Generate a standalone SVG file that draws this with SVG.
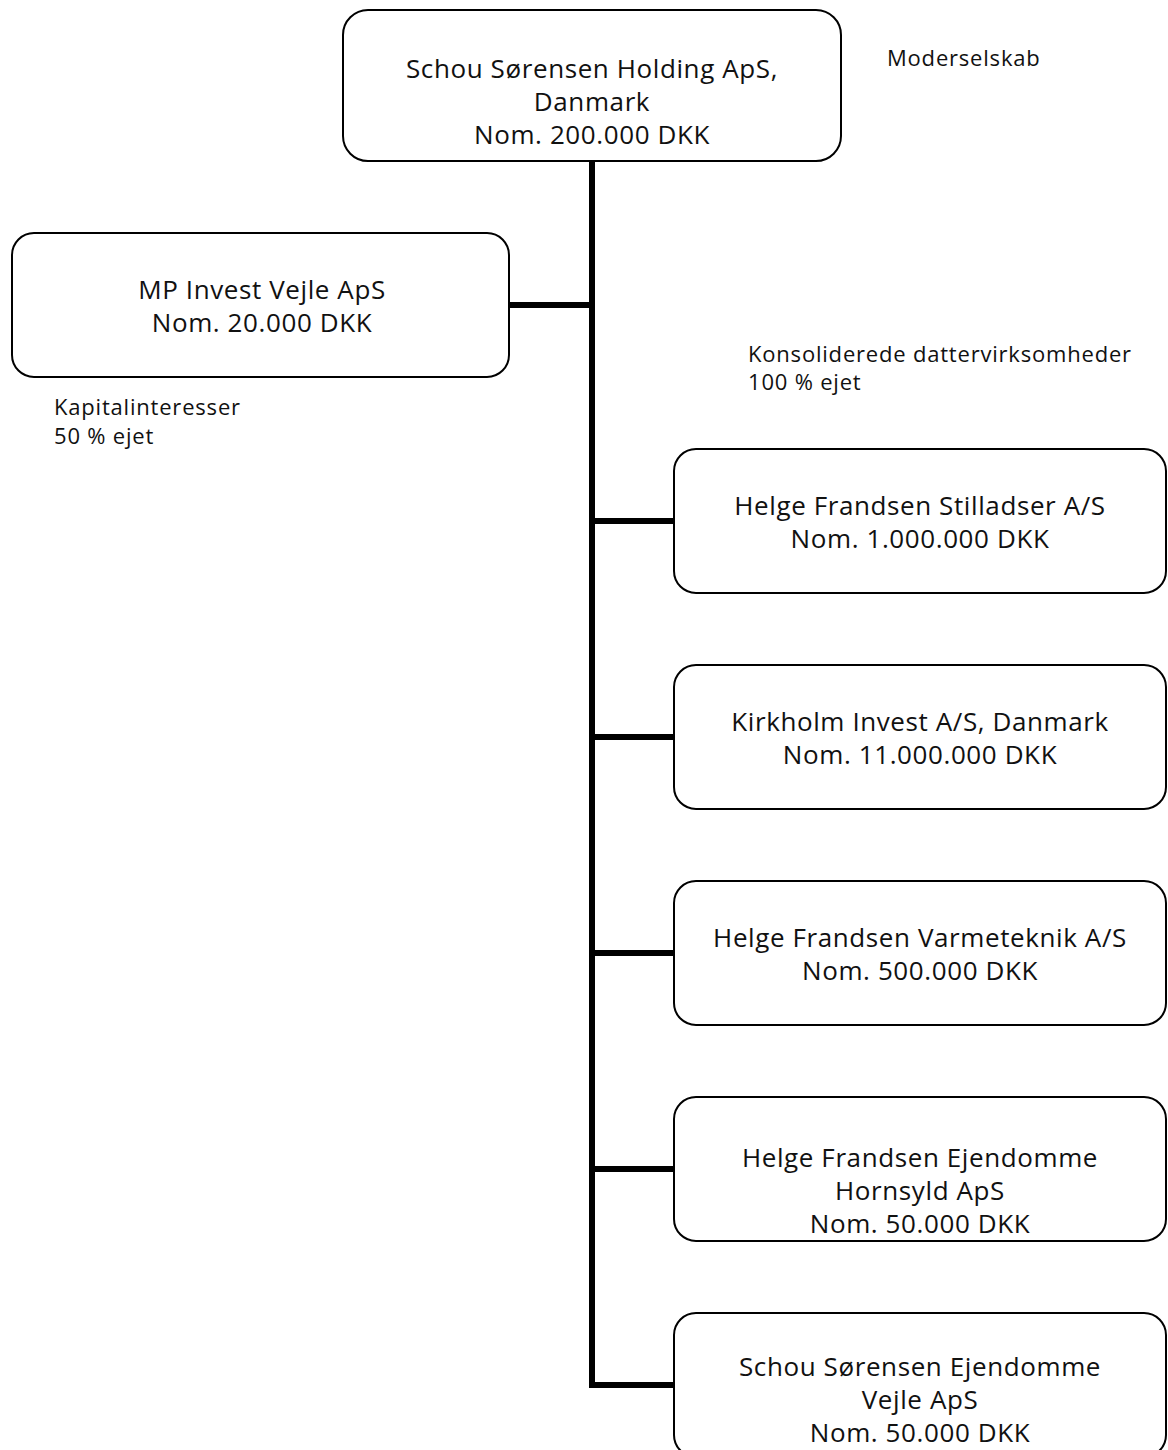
<svg xmlns="http://www.w3.org/2000/svg" width="1168" height="1450" viewBox="0 0 1168 1450">
<style>
.box{fill:#fff;stroke:#000;stroke-width:2}
.t{font-family:"Open Sans","Noto Sans","Liberation Sans",sans-serif;font-size:26px;letter-spacing:0.6px;fill:#111;text-anchor:middle}
.s{font-family:"Open Sans","Noto Sans","Liberation Sans",sans-serif;font-size:22px;letter-spacing:0.8px;fill:#111}
.c{fill:none;stroke:#000;stroke-width:6;stroke-linejoin:miter;stroke-linecap:butt}
</style>
<rect width="1168" height="1450" fill="#fff"/>
<g id="connectors">
<path class="c" d="M592 161 V1385 H674"/>
<path class="c" d="M509 305 H592"/>
<path class="c" d="M592 521 H674"/>
<path class="c" d="M592 737 H674"/>
<path class="c" d="M592 953 H674"/>
<path class="c" d="M592 1169 H674"/>
</g>
<g id="node-parent">
<rect class="box" x="343" y="10" width="498" height="151" rx="25"/>
<text class="t" x="592" y="78">Schou Sørensen Holding ApS,</text>
<text class="t" x="592" y="111">Danmark</text>
<text class="t" x="592" y="144">Nom. 200.000 DKK</text>
</g>
<g id="node-mp">
<rect class="box" x="12" y="233" width="497" height="144" rx="22"/>
<text class="t" x="262" y="299">MP Invest Vejle ApS</text>
<text class="t" x="262" y="332">Nom. 20.000 DKK</text>
</g>
<g id="node-stilladser">
<rect class="box" x="674" y="449" width="492" height="144" rx="22"/>
<text class="t" x="920" y="515">Helge Frandsen Stilladser A/S</text>
<text class="t" x="920" y="548">Nom. 1.000.000 DKK</text>
</g>
<g id="node-kirkholm">
<rect class="box" x="674" y="665" width="492" height="144" rx="22"/>
<text class="t" x="920" y="731">Kirkholm Invest A/S, Danmark</text>
<text class="t" x="920" y="764">Nom. 11.000.000 DKK</text>
</g>
<g id="node-varmeteknik">
<rect class="box" x="674" y="881" width="492" height="144" rx="22"/>
<text class="t" x="920" y="947">Helge Frandsen Varmeteknik A/S</text>
<text class="t" x="920" y="980">Nom. 500.000 DKK</text>
</g>
<g id="node-hornsyld">
<rect class="box" x="674" y="1097" width="492" height="144" rx="22"/>
<text class="t" x="920" y="1167">Helge Frandsen Ejendomme</text>
<text class="t" x="920" y="1200">Hornsyld ApS</text>
<text class="t" x="920" y="1233">Nom. 50.000 DKK</text>
</g>
<g id="node-vejle">
<rect class="box" x="674" y="1313" width="492" height="144" rx="22"/>
<text class="t" x="920" y="1376">Schou Sørensen Ejendomme</text>
<text class="t" x="920" y="1409">Vejle ApS</text>
<text class="t" x="920" y="1442">Nom. 50.000 DKK</text>
</g>
<g id="labels">
<text class="s" x="887" y="66">Moderselskab</text>
<text class="s" x="748" y="362">Konsoliderede dattervirksomheder</text>
<text class="s" x="748" y="390">100 % ejet</text>
<text class="s" x="54" y="415">Kapitalinteresser</text>
<text class="s" x="54" y="444">50 % ejet</text>
</g>
</svg>
